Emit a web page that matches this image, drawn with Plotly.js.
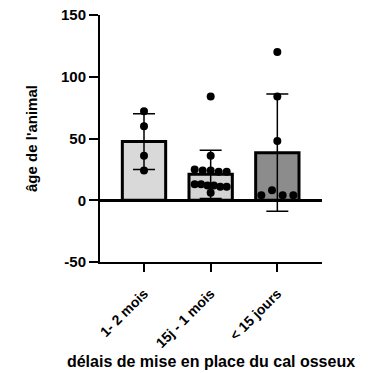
<!DOCTYPE html>
<html>
<head>
<meta charset="utf-8">
<script src="https://cdn.plot.ly/plotly-3.0.1.min.js"></script>
<style>html,body{margin:0;padding:0;background:#fff;}#chart{width:371px;height:373px;}</style>
</head>
<body>
<div id="chart"></div>
<script>
// ---- data ----
var categories = ["1- 2 mois", "15j - 1 mois", "< 15 jours"];
var means = [47.5, 21, 38.5];
var sds = [22.5, 19.5, 47.5];
var barColors = ["#d9d9d9", "#d4d4d4", "#8c8c8c"];
var points1 = [72, 60, 36, 24];
var points2 = [84, 36, 25, 24, 24, 23, 23, 13, 13, 12, 12, 11, 11, 6];
var points3 = [120, 84, 48, 4, 8, 4, 4];
var yTicks = [-50, 0, 50, 100, 150];

var FONT = "Liberation Sans, Arial, Helvetica, sans-serif";
var W = 371, H = 373;
var M = {l: 100, r: 49, t: 15, b: 111};
var xRange = [-0.66, 2.67];
var pxPerUnit = (W - M.l - M.r) / (xRange[1] - xRange[0]);

// simple scatter-dot layout: values close together share a row and are spread symmetrically
function swarm(center, vals) {
  var idx = vals.map(function (v, i) { return i; });
  idx.sort(function (a, b) { return vals[a] - vals[b] || a - b; });
  var xs = new Array(vals.length);
  var rows = [], cur = [];
  idx.forEach(function (i) {
    if (cur.length && vals[i] - vals[cur[cur.length - 1]] > 4) { rows.push(cur); cur = []; }
    cur.push(i);
  });
  if (cur.length) rows.push(cur);
  rows.forEach(function (row) {
    row.sort(function (a, b) { return a - b; });
    var n = row.length;
    var spacing = n > 1 ? Math.min(12, 32 / (n - 1)) : 0;
    row.forEach(function (i, k) {
      xs[i] = center + ((k - (n - 1) / 2) * spacing) / pxPerUnit;
    });
  });
  return xs;
}

var catIdx = categories.map(function (c, i) { return i; });

var traces = [{
  type: "bar",
  x: catIdx,
  y: means,
  width: 0.65,
  marker: {color: barColors, line: {color: "#000", width: 3}},
  error_y: {type: "data", array: sds, visible: true, color: "#000", thickness: 1.5, width: 11},
  hoverinfo: "skip",
  showlegend: false
}];

[points1, points2, points3].forEach(function (vals, g) {
  traces.push({
    type: "scatter",
    mode: "markers",
    x: swarm(g, vals),
    y: vals,
    marker: {color: "#000", size: 8},
    hoverinfo: "skip",
    showlegend: false,
    cliponaxis: false
  });
});

var layout = {
  width: W, height: H,
  margin: M,
  paper_bgcolor: "#fff", plot_bgcolor: "#fff",
  showlegend: false,
  font: {family: FONT, color: "#000"},
  xaxis: {
    range: xRange,
    tickvals: catIdx,
    ticktext: categories,
    showline: true, linewidth: 2, linecolor: "#000",
    ticks: "outside", ticklen: 8, tickwidth: 2, tickcolor: "#000",
    tickangle: -45,
    ticklabelstandoff: 8,
    tickfont: {family: FONT, size: 14, weight: "bold", color: "#000"},
    showgrid: false, zeroline: false, fixedrange: true,
    title: {text: "délais de mise en place du cal osseux", font: {family: FONT, size: 16, weight: "bold", color: "#000"}, standoff: 6}
  },
  yaxis: {
    range: [-50, 150],
    tickvals: yTicks,
    ticktext: yTicks.map(String),
    showline: true, linewidth: 2, linecolor: "#000",
    ticks: "outside", ticklen: 9, tickwidth: 2, tickcolor: "#000",
    tickfont: {family: FONT, size: 15, weight: "bold", color: "#000"},
    showgrid: false,
    zeroline: true, zerolinewidth: 2.5, zerolinecolor: "#000",
    fixedrange: true,
    title: {text: "âge de l'animal", font: {family: FONT, size: 15, weight: "bold", color: "#000"}, standoff: 20}
  }
};

Plotly.newPlot("chart", traces, layout, {displayModeBar: false, staticPlot: true});
</script>
</body>
</html>
